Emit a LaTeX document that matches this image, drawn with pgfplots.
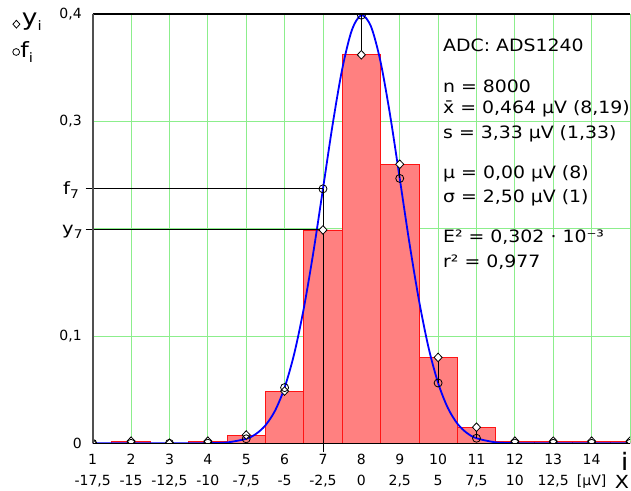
\documentclass[border=0pt]{standalone}
\usepackage{fontspec}
\setmainfont{DejaVu Sans}[FakeStretch=1.15]
\newfontfamily\infofont{DejaVu Sans}[FakeStretch=1.11]
\newfontfamily\tickfont{DejaVu Sans}
\usepackage{pgfplots}
\pgfplotsset{compat=1.18}

\definecolor{barfill}{RGB}{255,128,128}
\definecolor{baredge}{RGB}{255,20,20}
\definecolor{gridgreen}{RGB}{140,238,140}
\definecolor{curveblue}{RGB}{0,0,255}
\definecolor{axisgray}{RGB}{80,80,80}

\newcommand{\info}{\infofont\fontsize{17}{21}\selectfont}

\begin{document}
\begin{tikzpicture}
\useasboundingbox (-92.7pt,-46.7pt) rectangle (538.3pt,443.3pt);
\begin{axis}[
    scale only axis,
    width=537.3pt, height=429.3pt,
    xmin=1, xmax=15, ymin=0, ymax=0.4,
    axis line style={draw=none},
    major tick length=0pt,
    xtick={1,2,...,15},
    xticklabels={{1\\-17,5},{2\\-15},{3\\-12,5},{4\\-10},{5\\-7,5},{6\\-5},{7\\-2,5},
        {8\\0},{9\\2,5},{10\\5},{11\\7,5},{12\\10},{13\\12,5},{14\\{[µV]}},{}},
    ytick={0,0.1,0.2,0.3,0.4},
    yticklabels={0,{0,1},{},{0,3},{0,4}},
    xticklabel style={align=center, font=\tickfont\fontsize{14}{20.4}\selectfont,
        yshift=-10pt, inner sep=1pt},
    yticklabel style={font=\tickfont\fontsize{14}{15}\selectfont, xshift=-7.5pt},
    grid=major,
    grid style={gridgreen, line width=0.9pt},
    clip mode=individual,
    clip marker paths=true,
    unbounded coords=jump,
]
% histogram y_i
\addplot[ybar, bar width=1, fill=barfill, draw=baredge, line width=0.8pt]
coordinates {
    (1,0) (2,0.002) (3,0) (4,0.002) (5,0.0077) (6,0.0487) (7,0.1988)
    (8,0.362) (9,0.260) (10,0.080) (11,0.015) (12,0.002) (13,0.002)
    (14,0.002) (15,0.002)
};

% normal density
\addplot[curveblue, line width=1.8pt, smooth, no marks]
coordinates {
    (1,0) (2,0) (3,0) (3.5,0.00001) (4,0.00012) (4.5,0.0008)
    (5,0.0042) (5.25,0.0086) (5.5,0.0167) (5.75,0.0303)
    (6,0.0519) (6.25,0.0833) (6.5,0.1257) (6.75,0.1781)
    (7,0.2371) (7.25,0.2966) (7.5,0.3485) (7.75,0.3847)
    (8,0.3989) (8.25,0.3885) (8.5,0.3555) (8.75,0.3056)
    (9,0.2468) (9.25,0.1872) (9.5,0.1335) (9.75,0.0893)
    (10,0.0562) (10.25,0.0332) (10.5,0.0184) (10.75,0.0096)
    (11,0.0047) (11.5,0.0009) (12,0.00015) (12.5,0.00001)
    (13,0) (14,0) (15,0)
};

% f_7 / y_7 guides
\draw[black, line width=0.9pt] (axis cs:0.818,0.2371) -- (axis cs:7,0.2371);
\draw[black, line width=0.9pt] (axis cs:0.818,0.1988) -- (axis cs:7,0.1988);
\draw[black, line width=0.9pt] (axis cs:7,0.2371) -- (axis cs:7,-0.008);

% differences f_i - y_i
\addplot[black, line width=0.9pt, no marks]
coordinates {
    (5,0.0042) (5,0.0077) (5,nan)
    (6,0.0519) (6,0.0487) (6,nan)
    (8,0.3989) (8,0.362) (8,nan)
    (9,0.2468) (9,0.260) (9,nan)
    (10,0.0562) (10,0.080) (10,nan)
    (11,0.0047) (11,0.015)
};

\addplot[only marks, mark=diamond*, mark size=4.3pt,
    mark options={draw=black, fill=white, line width=0.8pt, xscale=1.25}]
coordinates {
    (1,0) (2,0.002) (3,0) (4,0.002) (5,0.0077) (6,0.0487) (7,0.1988)
    (8,0.362) (9,0.260) (10,0.080) (11,0.015) (12,0.002) (13,0.002)
    (14,0.002) (15,0.002)
};

\addplot[only marks, mark=o, mark size=4pt,
    mark options={draw=black, line width=0.8pt}]
coordinates {
    (1,0) (2,0) (3,0) (4,0.0001) (5,0.0042) (6,0.0519) (7,0.2371)
    (8,0.3989) (9,0.2468) (10,0.0562) (11,0.0047) (12,0.0002)
    (13,0) (14,0) (15,0)
};

% frame
\draw[black, line width=1.2pt] (rel axis cs:0,1) -- (rel axis cs:1,1);
\draw[black, line width=1.2pt] (rel axis cs:0,0) -- (rel axis cs:1,0);
\draw[axisgray, line width=1.8pt] (rel axis cs:0,0) -- (rel axis cs:0,1);
\end{axis}

% legend
\draw[line width=0.8pt, fill=white] (-79.8pt,419.1pt) -- (-76.3pt,423pt)
    -- (-72.8pt,419.1pt) -- (-76.3pt,415.2pt) -- cycle;
\node[anchor=base west, inner sep=0pt, font=\fontsize{23}{23}\selectfont]
    at (-71pt,418pt) {y\raisebox{-5pt}{\fontsize{13}{13}\selectfont i}};
\draw[line width=0.8pt] (-76.5pt,391.3pt) circle (3.4pt);
\node[anchor=base west, inner sep=0pt, font=\fontsize{21}{21}\selectfont]
    at (-72.5pt,385.3pt) {f\raisebox{-5pt}{\fontsize{13}{13}\selectfont i}};

% f_7 and y_7 labels
\node[anchor=base west, inner sep=0pt, font=\fontsize{17}{17}\selectfont]
    at (-29.7pt,248.3pt) {f\raisebox{-4pt}{\fontsize{12}{12}\selectfont 7}};
\node[anchor=base west, inner sep=0pt, font=\fontsize{17}{17}\selectfont]
    at (-30.7pt,209pt) {y\raisebox{-4pt}{\fontsize{12}{12}\selectfont 7}};

% axis names
\node[anchor=base west, inner sep=0pt, font=\fontsize{24}{24}\selectfont]
    at (528pt,-27pt) {i};
\node[anchor=base west, inner sep=0pt, font=\fontsize{18}{18}\selectfont]
    at (522pt,-45.3pt) {X};

% fit summary
\node[anchor=base west, inner sep=0pt, font=\info] at (350.3pt,391.6pt) {ADC: ADS1240};
\node[anchor=base west, inner sep=0pt, font=\info] at (350.3pt,350.6pt) {n = 8000};
\node[anchor=base west, inner sep=0pt, font=\info] at (350.3pt,329.3pt) {x̄ = 0,464 µV (8,19)};
\node[anchor=base west, inner sep=0pt, font=\info] at (350.3pt,305pt) {s = 3,33 µV (1,33)};
\node[anchor=base west, inner sep=0pt, font=\info] at (350.3pt,265pt) {μ = 0,00 µV (8)};
\node[anchor=base west, inner sep=0pt, font=\info] at (350.3pt,240.3pt) {σ = 2,50 µV (1)};
\node[anchor=base west, inner sep=0pt, font=\info] at (350.3pt,200.6pt) {E² = 0,302 · 10⁻³};
\node[anchor=base west, inner sep=0pt, font=\info] at (350.3pt,176pt) {r² = 0,977};
\end{tikzpicture}
\end{document}
